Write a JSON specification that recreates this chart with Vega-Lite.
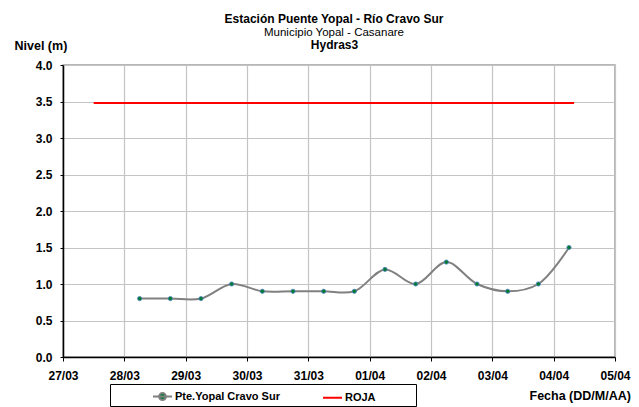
{
  "$schema": "https://vega.github.io/schema/vega-lite/v6.json",
  "width": 552,
  "height": 292,
  "autosize": {"type": "none"},
  "padding": {"left": 63, "top": 65, "right": 24, "bottom": 50},
  "background": "white",
  "title": {
    "text": "Estación Puente Yopal  - Río Cravo Sur",
    "subtitle": "Municipio Yopal - Casanare",
    "font": "Liberation Sans",
    "fontSize": 12,
    "fontWeight": "bold",
    "color": "black",
    "subtitleFont": "Liberation Sans",
    "subtitleFontSize": 11.5,
    "subtitleColor": "black",
    "subtitlePadding": 1,
    "anchor": "middle",
    "dx": -5,
    "offset": -1
  },
  "config": {
    "view": {"stroke": "#a0a0a0", "strokeWidth": 1.5},
    "axis": {
      "labelFont": "Liberation Sans",
      "labelFontWeight": "bold",
      "labelFontSize": 12,
      "labelColor": "black",
      "titleFont": "Liberation Sans",
      "titleFontWeight": "bold",
      "titleFontSize": 12.5,
      "titleColor": "black",
      "domainColor": "black",
      "domainWidth": 1.5,
      "tickColor": "black",
      "tickWidth": 1,
      "gridColor": "#c4c4c4",
      "gridWidth": 1.2,
      "gridOpacity": 1
    },
    "legend": {
      "labelFont": "Liberation Sans",
      "labelFontWeight": "bold",
      "labelFontSize": 11,
      "labelColor": "black"
    }
  },
  "data": {
    "values": [
      {"fecha": "2012-03-28T06:00", "nivel": 0.8, "serie": "Pte.Yopal Cravo Sur"},
      {"fecha": "2012-03-28T18:00", "nivel": 0.8, "serie": "Pte.Yopal Cravo Sur"},
      {"fecha": "2012-03-29T06:00", "nivel": 0.8, "serie": "Pte.Yopal Cravo Sur"},
      {"fecha": "2012-03-29T18:00", "nivel": 1.0, "serie": "Pte.Yopal Cravo Sur"},
      {"fecha": "2012-03-30T06:00", "nivel": 0.9, "serie": "Pte.Yopal Cravo Sur"},
      {"fecha": "2012-03-30T18:00", "nivel": 0.9, "serie": "Pte.Yopal Cravo Sur"},
      {"fecha": "2012-03-31T06:00", "nivel": 0.9, "serie": "Pte.Yopal Cravo Sur"},
      {"fecha": "2012-03-31T18:00", "nivel": 0.9, "serie": "Pte.Yopal Cravo Sur"},
      {"fecha": "2012-04-01T06:00", "nivel": 1.2, "serie": "Pte.Yopal Cravo Sur"},
      {"fecha": "2012-04-01T18:00", "nivel": 1.0, "serie": "Pte.Yopal Cravo Sur"},
      {"fecha": "2012-04-02T06:00", "nivel": 1.3, "serie": "Pte.Yopal Cravo Sur"},
      {"fecha": "2012-04-02T18:00", "nivel": 1.0, "serie": "Pte.Yopal Cravo Sur"},
      {"fecha": "2012-04-03T06:00", "nivel": 0.9, "serie": "Pte.Yopal Cravo Sur"},
      {"fecha": "2012-04-03T18:00", "nivel": 1.0, "serie": "Pte.Yopal Cravo Sur"},
      {"fecha": "2012-04-04T06:00", "nivel": 1.5, "serie": "Pte.Yopal Cravo Sur"},
      {"fecha": "2012-03-27T12:00", "nivel": 3.48, "serie": "ROJA"},
      {"fecha": "2012-04-04T08:00", "nivel": 3.48, "serie": "ROJA"}
    ]
  },
  "resolve": {"axis": {"x": "independent"}},
  "layer": [
    {
      "mark": {"type": "line", "interpolate": "catmull-rom", "strokeWidth": 2},
      "encoding": {
        "x": {
          "field": "fecha",
          "type": "temporal",
          "scale": {"domain": [{"year": 2012, "month": 3, "date": 27}, {"year": 2012, "month": 4, "date": 5}], "nice": false},
          "axis": {
            "orient": "bottom",
            "values": [
              {"year": 2012, "month": 3, "date": 27},
              {"year": 2012, "month": 3, "date": 28},
              {"year": 2012, "month": 3, "date": 29},
              {"year": 2012, "month": 3, "date": 30},
              {"year": 2012, "month": 3, "date": 31},
              {"year": 2012, "month": 4, "date": 1},
              {"year": 2012, "month": 4, "date": 2},
              {"year": 2012, "month": 4, "date": 3},
              {"year": 2012, "month": 4, "date": 4},
              {"year": 2012, "month": 4, "date": 5}
            ],
            "format": "%d/%m",
            "tickSize": 4,
            "labelPadding": 9,
            "labelFlush": false,
            "labelOverlap": false,
            "title": "Fecha (DD/M/AA)",
            "titleX": 466,
            "titleY": 42,
            "titleAlign": "left",
            "titleBaseline": "alphabetic"
          }
        },
        "y": {
          "field": "nivel",
          "type": "quantitative",
          "scale": {"domain": [0, 4], "nice": false},
          "axis": {
            "values": [0, 0.5, 1, 1.5, 2, 2.5, 3, 3.5, 4],
            "format": ".1f",
            "tickSize": 3,
            "labelPadding": 8,
            "labelOverlap": false,
            "labelFlush": false,
            "title": "Nivel (m)",
            "titleAngle": 0,
            "titleX": -49,
            "titleY": -16,
            "titleAlign": "left",
            "titleBaseline": "alphabetic"
          }
        },
        "color": {
          "field": "serie",
          "type": "nominal",
          "scale": {"domain": ["Pte.Yopal Cravo Sur", "ROJA"], "range": ["#808080", "#ff0000"]},
          "legend": {
            "orient": "none",
            "legendX": 47,
            "legendY": 319,
            "direction": "horizontal",
            "title": "\u00a0",
            "titleOrient": "right",
            "titlePadding": 38,
            "titleFontSize": 2,
            "strokeColor": "black",
            "padding": 2,
            "symbolType": "stroke",
            "symbolSize": 361,
            "symbolStrokeWidth": 2,
            "symbolOffset": 40,
            "labelOffset": 2,
            "columnPadding": 2,
            "encode": {
              "symbols": {
                "update": {
                  "shape": {"signal": "datum.value === 'ROJA' ? 'stroke' : 'M-1,0H1M-0.36,0A0.36,0.36,0,1,0,0.36,0A0.36,0.36,0,1,0,-0.36,0Z'"},
                  "fill": {"signal": "datum.value === 'ROJA' ? 'transparent' : '#007a33'"}
                }
              }
            }
          }
        }
      }
    },
    {
      "transform": [{"filter": "datum.serie === 'Pte.Yopal Cravo Sur'"}],
      "mark": {"type": "point", "filled": true, "size": 18, "fill": "#007a33", "stroke": "#4f81bd", "strokeWidth": 0.8, "opacity": 1},
      "encoding": {
        "x": {
          "field": "fecha",
          "type": "temporal",
          "axis": {
            "orient": "top",
            "labels": false,
            "ticks": false,
            "domain": false,
            "grid": false,
            "title": "Hydras3",
            "titleFontSize": 12,
            "titlePadding": 14,
            "titleX": 271
          }
        },
        "y": {
          "field": "nivel",
          "type": "quantitative",
          "axis": {
            "values": [0, 0.5, 1, 1.5, 2, 2.5, 3, 3.5, 4],
            "format": ".1f",
            "tickSize": 3,
            "labelPadding": 8,
            "labelOverlap": false,
            "labelFlush": false,
            "title": "Nivel (m)",
            "titleAngle": 0,
            "titleX": -49,
            "titleY": -16,
            "titleAlign": "left",
            "titleBaseline": "alphabetic"
          }
        }
      }
    }
  ]
}
